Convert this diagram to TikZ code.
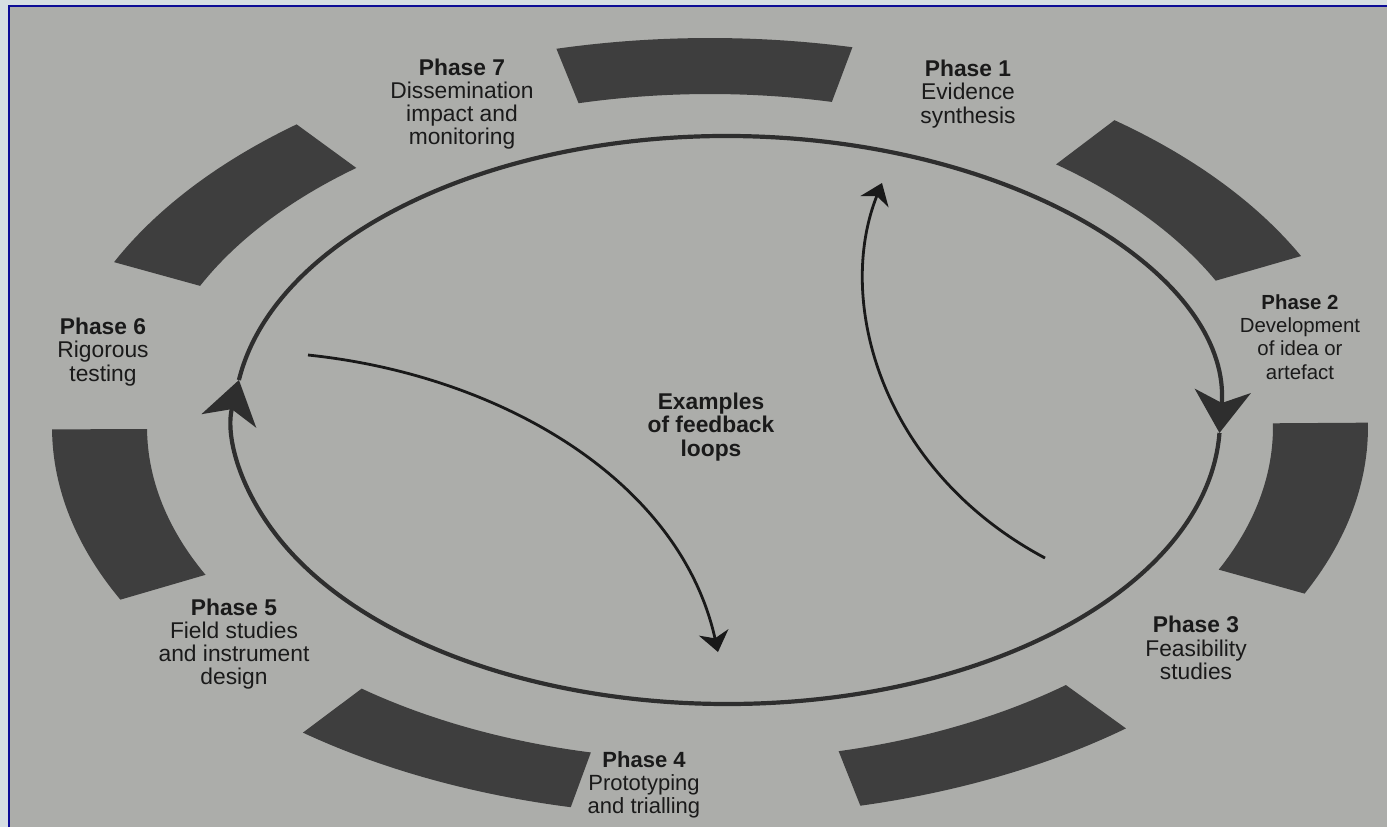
\documentclass[tikz,border=0pt]{standalone}
\usepackage{fontspec}
\setmainfont{Liberation Sans}
\usetikzlibrary{arrows.meta}
\definecolor{paper}{RGB}{172,173,170}
\definecolor{outside}{RGB}{214,222,226}
\definecolor{frameblue}{RGB}{12,12,150}
\definecolor{segcol}{RGB}{62,62,62}
\definecolor{ringcol}{RGB}{46,46,46}
\definecolor{txt}{RGB}{26,26,26}
\begin{document}
\begin{tikzpicture}[x=0.5pt,y=-0.5pt,
  lbl/.style={font=\fontsize{11.4}{11.6}\selectfont, align=center, text=txt, inner sep=0pt},
  seg/.style={fill=segcol},
  ring/.style={draw=ringcol, line width=2.1pt},
  bigtip/.style={-{Stealth[length=21pt,width=28pt,inset=6pt]}},
  fb/.style={draw=black!90, line width=1.4pt, -{Stealth[length=10pt,width=15pt,inset=3pt]}}]
\useasboundingbox (0,0) rectangle (1387,827);
\fill[outside] (0,0) rectangle (1387,827);
\fill[paper] (9,6) rectangle (1387,827);
\draw[frameblue, line width=1.3pt] (9,827) -- (9,6) -- (1387,6);
% ring segments
\begin{scope}[shift={(710,427)}]
\foreach \c in {0,...,6} {
  \pgfmathsetmacro\s{-90.5+51.43*\c-13}
  \pgfmathsetmacro\e{-90.5+51.43*\c+13}
  \fill[seg] (\s:658 and 389) arc[start angle=\s, end angle=\e, x radius=658, y radius=389]
    -- (\e:563 and 333) arc[start angle=\e, end angle=\s, x radius=563, y radius=333] -- cycle;
}
\end{scope}
% main cycle
\begin{scope}[shift={(727,420)}]
\coordinate (p6tip) at (188.1:493 and 284);
\coordinate (p2tip) at (2.6:493 and 284);
\end{scope}
\draw[ring, bigtip] (p2tip) arc[start angle=2.6, end angle=188.1, x radius=493, y radius=284];
\draw[ring, bigtip] (p6tip) arc[start angle=188.1, end angle=362.6, x radius=493, y radius=284];
% feedback loops
\coordinate (fa0) at (308,355);
\coordinate (fa1) at (718,652);
\coordinate (fb0) at (1045,558);
\coordinate (fb1) at (882,183);
\draw[fb] (fa0) .. controls (500,375) and (680,480) .. (fa1);
\draw[fb] (fb0) .. controls (880,470) and (835,300) .. (fb1);
% labels
\node[lbl] (ph7) at (462,104) {\textbf{Phase 7}\\Dissemination\\impact and\\monitoring};
\node[lbl] (ph1) at (968,94) {\textbf{Phase 1}\\Evidence\\synthesis};
\node[lbl, font=\fontsize{10.2}{11.6}\selectfont] (ph2) at (1300,337) {\textbf{Phase 2}\\Development\\of idea or\\artefact};
\node[lbl] (ph6) at (103,352) {\textbf{Phase 6}\\Rigorous\\testing};
\node[lbl] (ph5) at (234,644) {\textbf{Phase 5}\\Field studies\\and instrument\\design};
\node[lbl] (ph3) at (1196,648) {\textbf{Phase 3}\\Feasibility\\studies};
\node[lbl, font=\fontsize{11}{11.6}\selectfont] (ph4) at (644,785) {\textbf{Phase 4}\\Prototyping\\and trialling};
\node[lbl, font=\fontsize{11.4}{11.6}\selectfont\bfseries] (ctr) at (711,427) {Examples\\of feedback\\loops};
\end{tikzpicture}
\end{document}
